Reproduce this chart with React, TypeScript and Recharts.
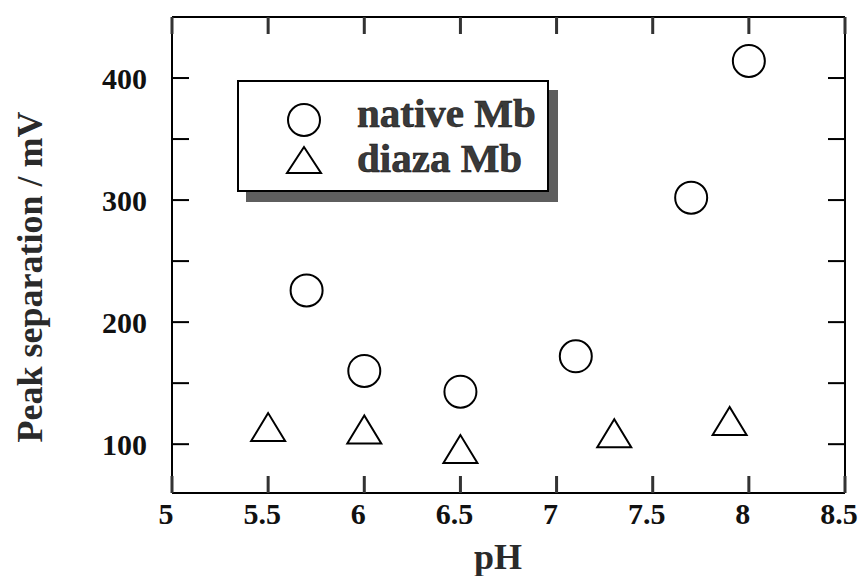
import React from "react";
import { ScatterChart, Scatter, XAxis, YAxis, Legend } from "recharts";

const nativePH = [5.7, 6.0, 6.5, 7.1, 7.7, 8.0];
const nativeSep = [226, 160, 143, 172, 302, 414];
const diazaPH = [5.5, 6.0, 6.5, 7.3, 7.9];
const diazaSep = [114, 112, 96, 109, 119];
const xTicks = [5, 5.5, 6, 6.5, 7, 7.5, 8, 8.5];
const yTicks = [100, 150, 200, 250, 300, 350, 400];
const yLabelTicks = [100, 200, 300, 400];
const seriesNames = ["native Mb", "diaza Mb"];

const nativeData = nativePH.map((ph, i) => ({ ph, sep: nativeSep[i] }));
const diazaData = diazaPH.map((ph, i) => ({ ph, sep: diazaSep[i] }));

const FONT = "'Liberation Serif', 'Times New Roman', serif";
const TICK_LEN = 17;
const INK = "#000";
const XTICK_INK = "#333333";

const CircleShape = (props: any) => {
  const { cx, cy } = props;
  if (cx == null || cy == null) return null;
  return <circle cx={cx} cy={cy} r={16} fill="#fff" stroke="#000" strokeWidth={2} />;
};

const TriangleShape = (props: any) => {
  const { cx, cy } = props;
  if (cx == null || cy == null) return null;
  const pts = `${cx},${cy - 14} ${cx - 17},${cy + 14} ${cx + 17},${cy + 14}`;
  return <polygon points={pts} fill="#fff" stroke="#000" strokeWidth={2} />;
};

const textProps = {
  fontFamily: FONT,
  fontSize: 30,
  fontWeight: "bold" as const,
  fill: "#111",
};

const BottomTick = (props: any) => {
  const nx = Number(props.x);
  const ny = Number(props.y);
  return (
    <g>
      <rect x={nx - 1.5} y={ny - TICK_LEN} width={3} height={TICK_LEN} fill={XTICK_INK} />
      <text x={nx - 6} y={ny + 31} textAnchor="middle" {...textProps}>
        {String(props.payload.value)}
      </text>
    </g>
  );
};

const TopTick = (props: any) => {
  const nx = Number(props.x);
  const ny = Number(props.y);
  return <rect x={nx - 1.5} y={ny} width={3} height={TICK_LEN} fill={XTICK_INK} />;
};

const LeftTick = (props: any) => {
  const nx = Number(props.x);
  const ny = Number(props.y);
  const v = props.payload.value;
  return (
    <g>
      <rect x={nx} y={ny - 1} width={TICK_LEN} height={2} fill={INK} />
      {yLabelTicks.includes(v) ? (
        <text x={nx - 25} y={ny + 11} textAnchor="end" {...textProps}>
          {String(v)}
        </text>
      ) : null}
    </g>
  );
};

const RightTick = (props: any) => {
  const nx = Number(props.x);
  const ny = Number(props.y);
  return <rect x={nx - TICK_LEN} y={ny - 1} width={TICK_LEN} height={2} fill={INK} />;
};

const LegendBox = (props: any) => {
  const payload = [...(props.payload || [])].sort(
    (a: any, b: any) => seriesNames.indexOf(a.value) - seriesNames.indexOf(b.value)
  );
  return (
    <div
      style={{
        position: "relative",
        width: 312,
        height: 112,
        boxSizing: "border-box",
        border: "2px solid #000",
        background: "#fff",
        boxShadow: "9px 10px 0 #5e5e5e",
      }}
    >
      <svg width={312} height={112} style={{ position: "absolute", left: -2, top: -2 }}>
        {payload.map((p: any, i: number) => {
          const cy = i === 0 ? 40 : 80;
          const ty = i === 0 ? 47 : 92;
          return (
            <g key={p.value}>
              {p.value === seriesNames[0] ? (
                <circle cx={67} cy={cy} r={16} fill="#fff" stroke="#000" strokeWidth={2} />
              ) : (
                <polygon
                  points={`67,${cy - 13} 50,${cy + 13} 84,${cy + 13}`}
                  fill="#fff"
                  stroke="#000"
                  strokeWidth={2}
                />
              )}
              <text
                x={120}
                y={ty}
                fontFamily={FONT}
                fontWeight="bold"
                fontSize={41}
                fill="#3a3a3a"
                stroke="#111"
                strokeWidth={0.6}
              >
                {p.value}
              </text>
            </g>
          );
        })}
      </svg>
    </div>
  );
};

export default function App() {
  return (
    <div style={{ position: "absolute", left: 0, top: 0, width: 858, height: 576, background: "#fff" }}>
      <ScatterChart
        width={858}
        height={576}
        margin={{ top: 16, right: 12, bottom: 23, left: 22 }}
      >
        <XAxis
          xAxisId="b"
          type="number"
          dataKey="ph"
          domain={[5, 8.5]}
          ticks={xTicks}
          interval={0}
          allowDataOverflow
          height={60}
          orientation="bottom"
          stroke="#000"
          strokeWidth={2}
          tickSize={0}
          tickMargin={0}
          tickLine={false}
          tick={<BottomTick />}
        />
        <XAxis
          xAxisId="t"
          type="number"
          dataKey="ph"
          domain={[5, 8.5]}
          ticks={xTicks}
          interval={0}
          allowDataOverflow
          height={1}
          orientation="top"
          stroke="#000"
          strokeWidth={2}
          tickSize={0}
          tickMargin={0}
          tickLine={false}
          tick={<TopTick />}
        />
        <YAxis
          yAxisId="l"
          type="number"
          dataKey="sep"
          domain={[60, 450]}
          ticks={yTicks}
          interval={0}
          allowDataOverflow
          width={150}
          orientation="left"
          stroke="#000"
          strokeWidth={2}
          tickSize={0}
          tickMargin={0}
          tickLine={false}
          tick={<LeftTick />}
        />
        <YAxis
          yAxisId="r"
          type="number"
          dataKey="sep"
          domain={[60, 450]}
          ticks={yTicks}
          interval={0}
          allowDataOverflow
          width={1}
          orientation="right"
          stroke="#000"
          strokeWidth={2}
          tickSize={0}
          tickMargin={0}
          tickLine={false}
          tick={<RightTick />}
        />
        <Legend
          layout="horizontal"
          verticalAlign="middle"
          align="center"
          wrapperStyle={{ left: 237, top: 80, width: 312, height: 112 }}
          content={<LegendBox />}
        />
        <Scatter
          name="native Mb"
          data={nativeData}
          xAxisId="b"
          yAxisId="l"
          shape={<CircleShape />}
          isAnimationActive={false}
        />
        <Scatter
          name="diaza Mb"
          data={diazaData}
          xAxisId="b"
          yAxisId="l"
          shape={<TriangleShape />}
          isAnimationActive={false}
        />
      </ScatterChart>
      <svg
        width={858}
        height={576}
        style={{ position: "absolute", left: 0, top: 0, pointerEvents: "none" }}
      >
        <text
          x={42}
          y={277}
          transform="rotate(-90, 42, 277)"
          textAnchor="middle"
          fontFamily={FONT}
          fontWeight="bold"
          fontSize={36}
          fill="#2a2a2a"
        >
          Peak separation / mV
        </text>
        <text
          x={498}
          y={569}
          textAnchor="middle"
          fontFamily={FONT}
          fontWeight="bold"
          fontSize={36}
          fill="#2a2a2a"
        >
          pH
        </text>
      </svg>
    </div>
  );
}
